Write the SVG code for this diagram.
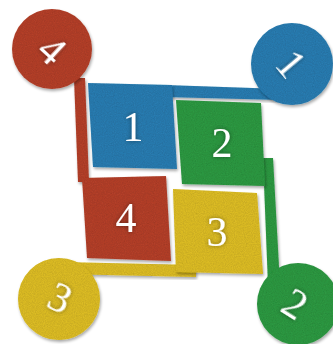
<svg xmlns="http://www.w3.org/2000/svg" width="333" height="344" viewBox="0 0 333 344">
<defs>
<filter id="felt" x="-20%" y="-20%" width="140%" height="140%">
<feTurbulence type="fractalNoise" baseFrequency="0.9" numOctaves="2" seed="3" result="n"/>
<feColorMatrix in="n" type="matrix" values="0 0 0 0 0  0 0 0 0 0  0 0 0 0 0  0 0 0 0.35 -0.1" result="na"/>
<feComposite in="na" in2="SourceGraphic" operator="in" result="nm"/>
<feMerge result="tex"><feMergeNode in="SourceGraphic"/><feMergeNode in="nm"/></feMerge>
<feGaussianBlur in="SourceAlpha" stdDeviation="1.8" result="b"/>
<feOffset in="b" dx="1" dy="1.5" result="o"/>
<feComponentTransfer in="o" result="s"><feFuncA type="linear" slope="0.35"/></feComponentTransfer>
<feMerge><feMergeNode in="s"/><feMergeNode in="tex"/></feMerge>
</filter>
<filter id="tsh" x="-50%" y="-50%" width="200%" height="200%">
<feDropShadow dx="0" dy="0" stdDeviation="2" flood-color="#000" flood-opacity="0.45"/>
</filter>
</defs>
<style>
.blue{fill:#2b7cb0;filter:url(#felt)}
.green{fill:#2f9843;filter:url(#felt)}
.yellow{fill:#dbbb25;filter:url(#felt)}
.red{fill:#b3412c;filter:url(#felt)}
.t{font-family:"Liberation Serif","Times New Roman",serif;font-size:42px;fill:#fff;text-anchor:middle;filter:url(#tsh)}
</style>
<rect width="333" height="344" fill="#fff"/>
<g id="connectors">
<polygon class="red" points="74,78 85,78 89,182 78,182"/>
<polygon class="blue" points="165,85 282,89 282,100 165,97"/>
<polygon class="green" points="263,158 273,158 280,285 268,285"/>
<polygon class="yellow" points="62,262 196,265 196,277 62,274"/>
</g>
<g id="circle4"><circle class="red" cx="52" cy="49" r="40"/><text class="t" transform="translate(52,50) rotate(43)" y="14">4</text></g>
<g id="circle1"><circle class="blue" cx="292" cy="64" r="41"/><text class="t" transform="translate(291,64) rotate(50)" y="14">1</text></g>
<g id="circle3"><circle class="yellow" cx="59" cy="299" r="41"/><text class="t" transform="translate(60,298) rotate(25)" y="14">3</text></g>
<g id="circle2"><circle class="green" cx="298" cy="304" r="41"/><text class="t" transform="translate(295,304) rotate(32)" y="14">2</text></g>
<g id="square1"><polygon class="blue" points="88,83 172,85 177,169 93,167"/><text class="t" x="133" y="141">1</text></g>
<g id="square2"><polygon class="green" points="176,100 261,103 265,186 182,184"/><text class="t" x="222" y="157">2</text></g>
<g id="square4"><polygon class="red" points="82,178 166,176 171,261 87,258"/><text class="t" x="126" y="232">4</text></g>
<g id="square3"><polygon class="yellow" points="173,189 257,193 263,274 176,272"/><text class="t" x="217" y="246">3</text></g>
</svg>
